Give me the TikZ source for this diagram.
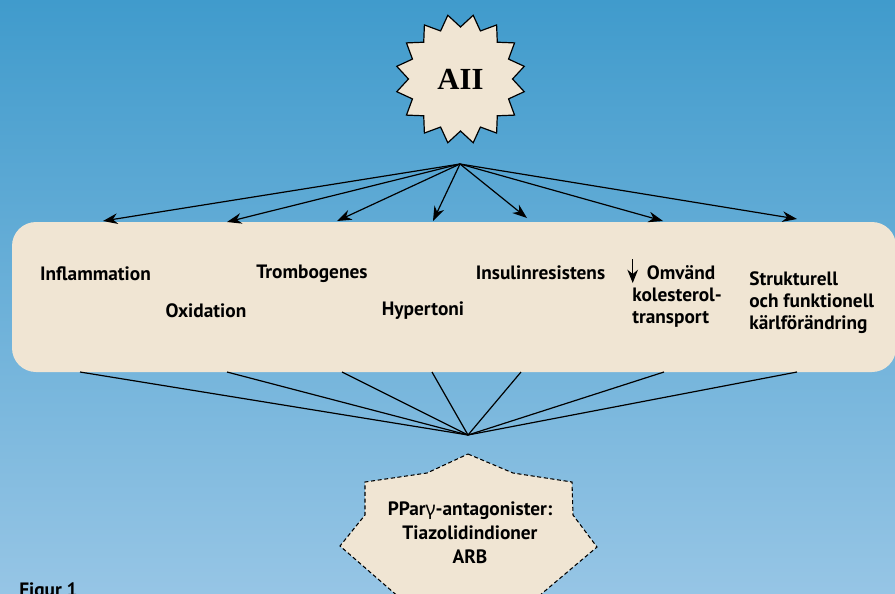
\documentclass[tikz,border=0pt]{standalone}
\usepackage{fontspec}
\setmainfont{Liberation Serif}
\setsansfont{PT Sans}
\newfontfamily\gfont{Noto Sans}
\usetikzlibrary{shapes.geometric,arrows.meta}
\definecolor{bgtop}{RGB}{64,155,204}
\definecolor{bgbot}{RGB}{150,197,229}
\definecolor{beige}{RGB}{240,229,211}
\tikzset{
  lab/.style={font=\sffamily\bfseries\fontsize{14.5}{16.5}\selectfont, inner sep=0pt, align=left, text=black},
  arr/.style={-{Stealth[length=11pt,width=8pt]}, line width=0.9pt},
  conv/.style={line width=0.9pt},
  panel/.style={fill=beige, rounded corners=18pt, minimum width=663pt, minimum height=112.5pt, inner sep=0pt},
  burst/.style={star, star points=16, star point ratio=1.25, shape border rotate=11.25, minimum size=97.5pt, inner sep=0pt, draw=black, line width=0.9pt, fill=beige},
  druglab/.style={font=\sffamily\bfseries\fontsize{14.5}{18}\selectfont, inner sep=0pt, align=center},
}
\begin{document}
\begin{tikzpicture}[x=0.75pt,y=-0.75pt]
\useasboundingbox (0,0) rectangle (895,593);
\clip (0,0) rectangle (895,593);
\shade[top color=bgtop,bottom color=bgbot] (0,0) rectangle (895,593);

% top burst
\node[burst, font=\bfseries\fontsize{23}{23}\selectfont] (aii) at (460.5,79) {AII};
\coordinate (apex) at (460,164);

% panel
\node[panel] (box) at (454,297) {};

% arrow targets
\coordinate (a1) at (103,221);
\coordinate (a2) at (227,222);
\coordinate (a3) at (337,221);
\coordinate (a4) at (433,221);
\coordinate (a5) at (527,218);
\coordinate (a6) at (663,221);
\coordinate (a7) at (797,219);
\foreach \i in {1,...,7} \draw[arr] (apex) -- (a\i);

% converging lines
\coordinate (conv) at (468,435);
\coordinate (b1) at (80,372);
\coordinate (b2) at (227,372);
\coordinate (b3) at (342,372);
\coordinate (b4) at (432,372);
\coordinate (b5) at (521,372);
\coordinate (b6) at (664,372);
\coordinate (b7) at (797,372);
\foreach \i in {1,...,7} \draw[conv] (b\i) -- (conv);

% labels
\node[lab] (infl) at (95.5,274) {Inflammation};
\node[lab] (oxid) at (206,311) {Oxidation};
\node[lab] (tromb) at (312,274) {Trombogenes};
\node[lab] (hyper) at (423,311) {Hypertoni};
\node[lab] (insul) at (540.5,273) {Insulinresistens};
\node[lab, anchor=west] (omv) at (632,296) {\hspace{11pt}Omvänd\\kolesterol-\\transport};
\coordinate (dn1) at (632.7,259);
\coordinate (dn2) at (632.7,283);
\draw[-{Stealth[length=10pt,width=8pt]}, line width=0.8pt] (dn1) -- (dn2);
\node[lab, anchor=west] (strukt) at (749,303) {Strukturell\\och funktionell\\kärlförändring};

% bottom burst
\filldraw[fill=beige, draw=black, line width=0.8pt, dash pattern=on 3pt off 2pt]
  (468,454) -- (513,473) -- (572,482) -- (573,515) -- (597,547) -- (520,612)
  -- (468,640) -- (416,612) -- (340,546) -- (365,515) -- (365,482) -- (427,473) -- cycle;
\node[druglab] (drug) at (470,533) {PPar{\gfont γ}-antagonister:\\Tiazolidindioner\\ARB};

\node[font=\sffamily\bfseries\fontsize{14.5}{16}\selectfont, anchor=north west, inner sep=0pt] (fig) at (19,582) {Figur 1};
\end{tikzpicture}
\end{document}
